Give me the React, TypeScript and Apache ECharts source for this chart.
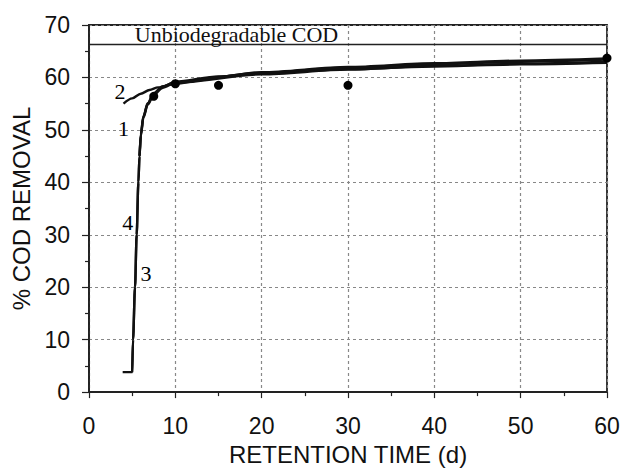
import React, { useEffect, useRef } from "react";
import * as echarts from "echarts";

const curve1: number[][] = [[5.85, 45], [6.0, 49], [6.3, 52.5], [6.8, 55], [7.5, 56.9], [8.5, 58.2], [10, 59.2], [15, 60.2], [20, 60.8], [30, 61.6], [40, 62.1], [50, 62.5], [60, 62.8]];
const curve2: number[][] = [[4, 55], [5, 56], [6, 56.9], [7, 57.6], [8, 58.1], [10, 58.8], [15, 60.1], [20, 61], [30, 62], [40, 62.7], [50, 63.2], [60, 63.6]];
const curve3: number[][] = [[5, 3.8], [5.1, 10], [5.33, 20], [5.52, 30], [5.72, 40], [5.85, 45], [6.0, 48.8], [6.3, 52.3], [6.8, 54.8], [7.5, 56.7], [8.5, 58], [10, 59], [20, 60.6], [30, 61.5], [40, 62.2], [50, 62.6], [60, 63]];
const curve4: number[][] = [[3.9, 3.8], [5, 3.8], [5.1, 10], [5.33, 20], [5.52, 30], [5.72, 40], [5.85, 45], [6.0, 49.2], [6.3, 52.6], [6.8, 55.1], [7.5, 57], [8.5, 58.3], [10, 59.1], [20, 60.9], [30, 61.9], [40, 62.5], [50, 63], [60, 63.4]];
const observed: number[][] = [[7.5, 56.4], [10, 58.8], [15, 58.5], [30, 58.5], [60, 63.7]];
const unbiodegradable = 66.4;
const curveLabels: [number, number, string][] = [[3.6, 57.4, "2"], [4.0, 50.2, "1"], [4.5, 32.3, "4"], [6.6, 22.6, "3"]];
const noteLabel: [number, number, string] = [5.3, 66.6, "Unbiodegradable COD"];

const sans = "'Liberation Sans', Arial, sans-serif";
const serif = "'Liberation Serif', 'Times New Roman', serif";

export default function App() {
  const ref = useRef<HTMLDivElement>(null);
  useEffect(() => {
    if (!ref.current) return;
    const chart = echarts.init(ref.current, undefined, { renderer: "svg" });
    const lineStyle = { color: "#111", width: 2.4 };
    const mkLine = (name: string, data: number[][]) => ({
      name, type: "line", data, showSymbol: false, symbol: "none", smooth: 0.3, smoothMonotone: "x",
      lineStyle, z: 3,
    });
    chart.setOption({
      animation: false,
      backgroundColor: "#fff",
      grid: { left: 89, right: 23, top: 25, bottom: 75, show: true, borderColor: "#222", borderWidth: 1.8, backgroundColor: "transparent" },
      xAxis: {
        type: "value", min: 0, max: 60, interval: 10,
        name: "RETENTION TIME (d)", nameLocation: "middle", nameGap: 48,
        nameTextStyle: { fontFamily: sans, fontSize: 24, color: "#111" },
        axisLine: { show: true, lineStyle: { color: "#222", width: 1.8 } },
        axisTick: { show: true, length: 6, lineStyle: { color: "#222", width: 1.2 } },
        minorTick: { show: true, splitNumber: 2, length: 4, lineStyle: { color: "#222", width: 1.2 } },
        axisLabel: { fontFamily: sans, fontSize: 23, color: "#111", margin: 22 },
        splitLine: { show: true, lineStyle: { color: "#888", type: [3, 3], width: 1.2 } },
      },
      yAxis: {
        type: "value", min: 0, max: 70, interval: 10,
        name: "% COD REMOVAL", nameLocation: "middle", nameGap: 53,
        nameTextStyle: { fontFamily: sans, fontSize: 24, color: "#111" },
        axisLine: { show: true, lineStyle: { color: "#222", width: 1.8 } },
        axisTick: { show: true, length: 7, lineStyle: { color: "#222", width: 1.2 } },
        minorTick: { show: true, splitNumber: 2, length: 4, lineStyle: { color: "#222", width: 1.2 } },
        axisLabel: { fontFamily: sans, fontSize: 23, color: "#111", margin: 19 },
        splitLine: { show: true, lineStyle: { color: "#888", type: [3, 3], width: 1.2 } },
      },
      series: [
        mkLine("1", curve1),
        mkLine("2", curve2),
        mkLine("3", curve3),
        mkLine("4", curve4),
        {
          name: "observed", type: "scatter", data: observed, symbol: "circle", symbolSize: 9,
          itemStyle: { color: "#000", opacity: 1 }, z: 5,
        },
        {
          name: "limit", type: "line", data: [], symbol: "none",
          markLine: {
            silent: true, symbol: "none", label: { show: false },
            lineStyle: { color: "#222", width: 1.3, type: "solid" },
            data: [{ yAxis: unbiodegradable }],
          },
        },
        {
          name: "curveLabels", type: "scatter", symbolSize: 0, z: 6,
          itemStyle: { color: "#000", opacity: 1 },
          data: curveLabels.map(([x, y, t]) => ({ value: [x, y], name: t })),
          label: { show: true, position: "inside", formatter: (p: any) => p.name, fontFamily: serif, fontSize: 22, color: "#000" },
        },
        {
          name: "note", type: "scatter", symbolSize: 0, z: 6,
          itemStyle: { color: "#000", opacity: 1 },
          data: [{ value: [noteLabel[0], noteLabel[1]], name: noteLabel[2] }],
          label: { show: true, position: [0, 3], align: "left", verticalAlign: "bottom", formatter: (p: any) => p.name, fontFamily: serif, fontSize: 22, color: "#111" },
        },
      ],
    });
    return () => chart.dispose();
  }, []);
  return <div ref={ref} style={{ width: 630, height: 471, position: "absolute", left: 0, top: 0 }} />;
}
